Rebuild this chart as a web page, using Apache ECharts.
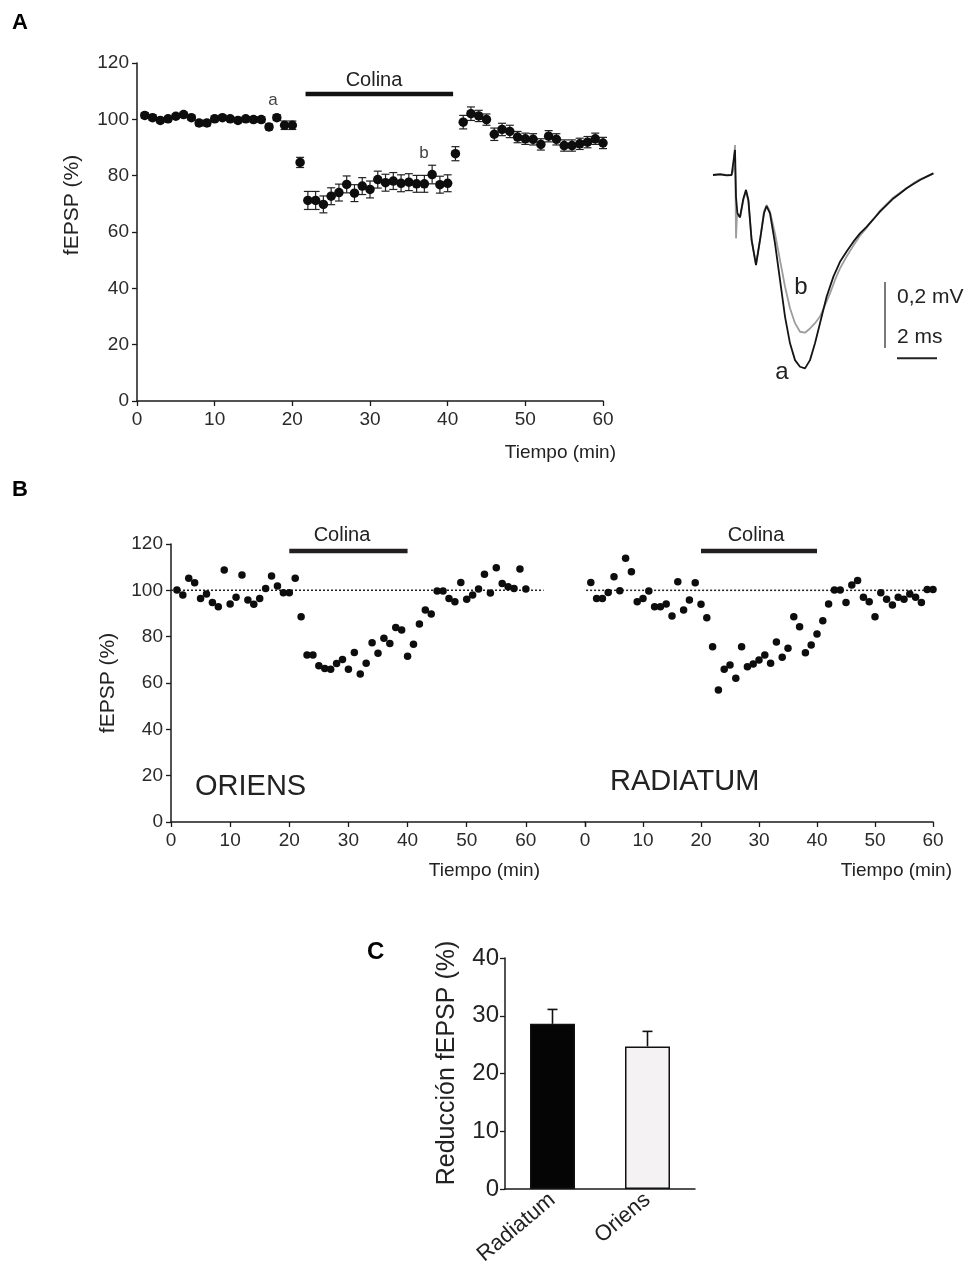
<!DOCTYPE html>
<html><head><meta charset="utf-8">
<script src="https://cdn.jsdelivr.net/npm/echarts@6/dist/echarts.min.js"></script>
<style>html,body{margin:0;padding:0;background:#fff}#c{width:976px;height:1268px}</style>
</head><body><div id="c"></div>
<script>
const FONT = 'Liberation Sans, Arial, sans-serif';

// ---------- Panel A: time course (mean ± SEM) ----------
const timeMin = [1,2,3,4,5,6,7,8,9,10,11,12,13,14,15,16,17,18,19,20,
  21,22,23,24,25,26,27,28,29,30,31,32,33,34,35,36,37,38,39,40,
  41,42,43,44,45,46,47,48,49,50,51,52,53,54,55,56,57,58,59,60];
const fepspA = [101.4,100.6,99.6,100.2,101.1,101.7,100.6,98.7,98.7,100.2,
  100.6,100.2,99.6,100.2,99.9,99.9,97.3,100.6,97.9,97.9,
  84.7,71.2,71.2,69.8,72.7,74.0,76.9,73.8,76.3,75.1,
  78.6,77.5,78.1,77.3,77.7,77.1,77.1,80.4,76.8,77.3,
  87.8,99.0,102.0,101.2,99.9,94.7,96.4,95.7,93.7,93.1,
  92.9,91.1,94.0,92.9,90.7,90.7,91.3,91.9,93.1,91.6];
const semA = [1.0,1.0,0.8,0.8,0.8,0.8,0.8,1.0,1.0,1.0,
  0.8,0.8,0.8,0.8,1.0,1.0,1.0,1.0,1.5,1.5,
  1.8,3.2,3.2,3.0,3.0,3.0,3.0,3.0,3.0,3.0,
  3.0,3.0,3.0,3.0,3.0,3.0,3.0,3.3,3.0,3.0,
  2.5,2.4,2.4,2.0,2.0,2.2,2.2,2.2,2.0,2.0,
  2.0,2.0,2.0,2.0,2.0,2.0,2.0,2.0,2.0,2.0];
const colinaA = [21.7, 40.7];
const colinaLevelA = 109;

// ---------- Panel A: example traces (ms, mV) ----------
const traceT_a = [0.00,0.35,0.68,0.93,1.02,1.10,1.15,1.22,1.35,1.52,1.65,1.77,1.93,2.15,2.35,2.55,2.68,2.85,3.10,3.35,3.60,3.85,4.10,4.35,4.60,4.85,5.10,5.35,5.68,6.02,6.35,6.68,7.02,7.35,7.68,8.02,8.35,8.68,9.02,9.35,9.68,10.02,10.35,10.68,11.02];
const traceV_a = [0.000,0.002,-0.001,0.000,0.005,0.076,-0.066,-0.116,-0.128,-0.071,-0.045,-0.076,-0.197,-0.273,-0.197,-0.116,-0.094,-0.116,-0.207,-0.318,-0.429,-0.510,-0.561,-0.581,-0.586,-0.561,-0.510,-0.449,-0.369,-0.308,-0.263,-0.232,-0.202,-0.177,-0.157,-0.134,-0.111,-0.091,-0.071,-0.056,-0.040,-0.027,-0.015,-0.005,0.005];
const traceT_b = [0.00,0.35,0.68,0.93,1.02,1.10,1.13,1.15,1.20,1.35,1.52,1.65,1.77,1.93,2.15,2.35,2.55,2.68,2.85,3.10,3.35,3.60,3.85,4.10,4.35,4.60,4.85,5.10,5.35,5.60,5.85,6.10,6.35,6.68,7.02,7.35,7.68,8.02,8.35,8.68,9.02,9.35,9.68,10.02,10.35,10.68,11.02];
const traceV_b = [0.000,0.003,0.000,0.000,0.015,0.091,-0.070,-0.192,-0.120,-0.128,-0.075,-0.050,-0.080,-0.197,-0.270,-0.197,-0.110,-0.091,-0.111,-0.177,-0.258,-0.338,-0.404,-0.449,-0.475,-0.478,-0.465,-0.449,-0.429,-0.394,-0.359,-0.318,-0.283,-0.247,-0.214,-0.184,-0.160,-0.134,-0.108,-0.088,-0.068,-0.054,-0.040,-0.025,-0.013,-0.005,0.005];
const scaleBarMV = 0.2, scaleBarMS = 2;

// ---------- Panel B ----------
const oriens = [100.1,98.0,105.2,103.3,96.5,98.4,94.7,92.9,108.8,94.1,
  97.0,106.6,95.8,94.0,96.5,100.8,106.2,101.9,99.0,99.0,
  105.2,88.6,72.1,72.1,67.5,66.3,65.9,68.4,70.1,65.9,
  73.2,63.9,68.5,77.4,72.8,79.3,77.1,84.0,82.9,71.6,
  76.7,85.5,91.5,89.8,99.7,99.7,96.5,95.1,103.4,96.1,
  98.0,100.6,106.9,98.9,109.8,103.0,101.6,100.8,109.2,100.6];
const radiatum = [103.4,96.5,96.5,99.1,105.9,99.8,113.8,108.0,95.1,96.5,
  99.7,92.9,92.9,94.1,88.9,103.7,91.5,95.8,103.3,94.0,
  88.2,75.7,57.0,65.9,67.8,62.0,75.7,67.0,68.2,69.9,
  72.1,68.5,77.7,71.1,75.0,88.6,84.3,73.1,76.4,81.1,
  86.9,94.1,100.1,100.1,94.8,102.3,104.2,97.0,95.1,88.6,
  99.0,96.1,93.7,97.0,96.1,98.4,97.0,94.8,100.4,100.4];
const colinaB = [20, 40];
const colinaLevelB = 117;
const baselineB = 100;

// ---------- Panel C ----------
const groupsC = ['Radiatum', 'Oriens'];
const reduccion = [28.6, 24.7];
const reduccionSem = [2.5, 2.6];

// ---------- helpers ----------
const axisLineStyle = {lineStyle: {color: '#1a1a1a', width: 1.5}};
const tickStyle = {show: true, length: 5, lineStyle: {color: '#1a1a1a', width: 1.3}};
function valAxis(extra) {
  return Object.assign({type: 'value', splitLine: {show: false}, axisLine: Object.assign({show: true}, axisLineStyle), axisTick: tickStyle,
    axisLabel: {fontFamily: FONT, fontSize: 19, color: '#2a2a2a', margin: 9}}, extra);
}
function errA(params, api) {
  const x = api.value(0), y = api.value(1), e = api.value(2);
  const p1 = api.coord([x, y + e]), p2 = api.coord([x, y - e]);
  const hw = 4, st = {stroke: '#222', lineWidth: 1.2};
  return {type: 'group', children: [
    {type: 'line', shape: {x1: p1[0], y1: p1[1], x2: p2[0], y2: p2[1]}, style: st},
    {type: 'line', shape: {x1: p1[0]-hw, y1: p1[1], x2: p1[0]+hw, y2: p1[1]}, style: st},
    {type: 'line', shape: {x1: p2[0]-hw, y1: p2[1], x2: p2[0]+hw, y2: p2[1]}, style: st}]};
}
function errC(params, api) {
  const x = api.value(0), y = api.value(1), e = api.value(2);
  const p0 = api.coord([x, y]), p1 = api.coord([x, y + e]);
  const hw = 5, st = {stroke: '#111', lineWidth: 1.6};
  return {type: 'group', children: [
    {type: 'line', shape: {x1: p0[0], y1: p0[1], x2: p1[0], y2: p1[1]}, style: st},
    {type: 'line', shape: {x1: p1[0]-hw, y1: p1[1], x2: p1[0]+hw, y2: p1[1]}, style: st}]};
}
function txt(text, x, y, size, opts) {
  opts = opts || {};
  return {type: 'text', x: x, y: y, rotation: opts.rot || 0, z: 10,
    style: {text: text, font: (opts.bold ? 'bold ' : '') + size + 'px ' + FONT, fill: opts.color || '#222',
      textAlign: opts.align || 'center', textVerticalAlign: 'middle'}};
}

const pairs = (xs, ys) => xs.map((x, i) => [x, ys[i]]);
const dot = {color: '#0d0d0d', opacity: 1};

const option = {
  animation: false,
  backgroundColor: '#fff',
  grid: [
    {left: 137, top: 63, width: 466, height: 338},
    {left: 713, top: 142, width: 230, height: 231},
    {left: 171, top: 544, width: 414, height: 278},
    {left: 585, top: 544, width: 348, height: 278},
    {left: 505, top: 958, width: 190, height: 235}
  ],
  xAxis: [
    valAxis({gridIndex: 0, min: 0, max: 60, interval: 10}),
    {gridIndex: 1, type: 'value', min: 0, max: 11.5, show: false},
    valAxis({gridIndex: 2, min: 0, max: 70, interval: 10,
      axisLabel: {fontFamily: FONT, fontSize: 19, color: '#2a2a2a', margin: 9, formatter: v => v > 60 ? '' : String(v)}}),
    valAxis({gridIndex: 3, min: 0, max: 60, interval: 10}),
    {gridIndex: 4, type: 'category', data: groupsC, axisLine: Object.assign({show: true}, axisLineStyle), axisTick: {show: false},
      axisLabel: {fontFamily: FONT, fontSize: 22, color: '#222', rotate: 40, margin: 8}}
  ],
  yAxis: [
    valAxis({gridIndex: 0, min: 0, max: 120, interval: 20, axisLabel: {fontFamily: FONT, fontSize: 19, color: '#2a2a2a', margin: 8}}),
    {gridIndex: 1, type: 'value', min: -0.6, max: 0.1, show: false},
    valAxis({gridIndex: 2, min: 0, max: 120, interval: 20, axisLabel: {fontFamily: FONT, fontSize: 19, color: '#2a2a2a', margin: 8}}),
    {gridIndex: 3, type: 'value', min: 0, max: 120, show: false},
    valAxis({gridIndex: 4, min: 0, max: 40, interval: 10, axisLabel: {fontFamily: FONT, fontSize: 24, color: '#222', margin: 6}})
  ],
  series: [
    // Panel A
    {type: 'custom', xAxisIndex: 0, yAxisIndex: 0, renderItem: errA, z: 2,
      encode: {x: 0, y: 1}, data: timeMin.map((t, i) => [t, fepspA[i], semA[i]])},
    {type: 'scatter', xAxisIndex: 0, yAxisIndex: 0, symbol: 'circle', symbolSize: 9.5, z: 3,
      itemStyle: dot, data: pairs(timeMin, fepspA)},
    {type: 'line', xAxisIndex: 0, yAxisIndex: 0, symbol: 'none', lineStyle: {color: '#111', width: 4.5},
      data: colinaA.map(x => [x, colinaLevelA])},
    // traces
    {type: 'line', xAxisIndex: 1, yAxisIndex: 1, symbol: 'none', lineStyle: {color: '#9d9d9d', width: 1.8}, z: 2,
      data: pairs(traceT_b, traceV_b)},
    {type: 'line', xAxisIndex: 1, yAxisIndex: 1, symbol: 'none', lineStyle: {color: '#141414', width: 1.8}, z: 3,
      data: pairs(traceT_a, traceV_a)},
    {type: 'line', xAxisIndex: 1, yAxisIndex: 1, symbol: 'none', lineStyle: {color: '#333', width: 1.3},
      data: [[8.6, -0.324], [8.6, -0.324 - scaleBarMV]]},
    {type: 'line', xAxisIndex: 1, yAxisIndex: 1, symbol: 'none', lineStyle: {color: '#222', width: 2},
      data: [[9.2, -0.555], [9.2 + scaleBarMS, -0.555]]},
    // Panel B left (Oriens)
    {type: 'line', xAxisIndex: 2, yAxisIndex: 2, symbol: 'none', lineStyle: {color: '#222', width: 1.5, type: [2, 2]},
      data: [[0, baselineB], [63, baselineB]]},
    {type: 'scatter', xAxisIndex: 2, yAxisIndex: 2, symbolSize: 7.5, itemStyle: dot, z: 3,
      data: pairs(timeMin, oriens)},
    {type: 'line', xAxisIndex: 2, yAxisIndex: 2, symbol: 'none', lineStyle: {color: '#231f20', width: 4.5},
      data: colinaB.map(x => [x, colinaLevelB])},
    // Panel B right (Radiatum)
    {type: 'line', xAxisIndex: 3, yAxisIndex: 3, symbol: 'none', clip: false, lineStyle: {color: '#222', width: 1.5, type: [2, 2]},
      data: [[-0.5, baselineB], [61.2, baselineB]]},
    {type: 'scatter', xAxisIndex: 3, yAxisIndex: 3, symbolSize: 7.5, itemStyle: dot, z: 3,
      data: pairs(timeMin, radiatum)},
    {type: 'line', xAxisIndex: 3, yAxisIndex: 3, symbol: 'none', lineStyle: {color: '#231f20', width: 4.5},
      data: colinaB.map(x => [x, colinaLevelB])},
    // Panel C
    {type: 'bar', xAxisIndex: 4, yAxisIndex: 4, barWidth: 45, z: 2,
      data: reduccion.map((v, i) => ({value: v, itemStyle: {color: i === 0 ? '#050505' : '#f4f2f2', borderColor: '#111', borderWidth: 1.5}}))},
    {type: 'custom', xAxisIndex: 4, yAxisIndex: 4, renderItem: errC, z: 1,
      encode: {x: 0, y: 1}, data: reduccion.map((v, i) => [i, v, reduccionSem[i]])}
  ],
  graphic: [
    txt('A', 12, 23, 22, {bold: true, align: 'left', color: '#000'}),
    txt('B', 12, 490, 22, {bold: true, align: 'left', color: '#000'}),
    txt('C', 367, 952, 24, {bold: true, align: 'left', color: '#000'}),
    txt('Colina', 374, 80, 20),
    txt('a', 273, 100, 17, {color: '#444'}),
    txt('b', 424, 153, 17, {color: '#444'}),
    txt('fEPSP (%)', 72, 205, 21, {rot: Math.PI / 2}),
    txt('Tiempo (min)', 616, 453, 19, {align: 'right'}),
    txt('b', 801, 287, 24),
    txt('a', 782, 372, 24),
    txt('0,2 mV', 897, 297, 21, {align: 'left'}),
    txt('2 ms', 897, 337, 21, {align: 'left'}),
    txt('Colina', 342, 535, 20),
    txt('Colina', 756, 535, 20),
    txt('fEPSP (%)', 108, 683, 21, {rot: Math.PI / 2}),
    txt('ORIENS', 195, 787, 29, {align: 'left'}),
    txt('RADIATUM', 610, 782, 29, {align: 'left'}),
    txt('Tiempo (min)', 540, 871, 19, {align: 'right'}),
    txt('Tiempo (min)', 952, 871, 19, {align: 'right'}),
    txt('Reducción fEPSP (%)', 447, 1063, 25, {rot: Math.PI / 2})
  ]
};
const chart = echarts.init(document.getElementById('c'), null, {renderer: 'canvas'});
chart.setOption(option);
</script>
</body></html>
